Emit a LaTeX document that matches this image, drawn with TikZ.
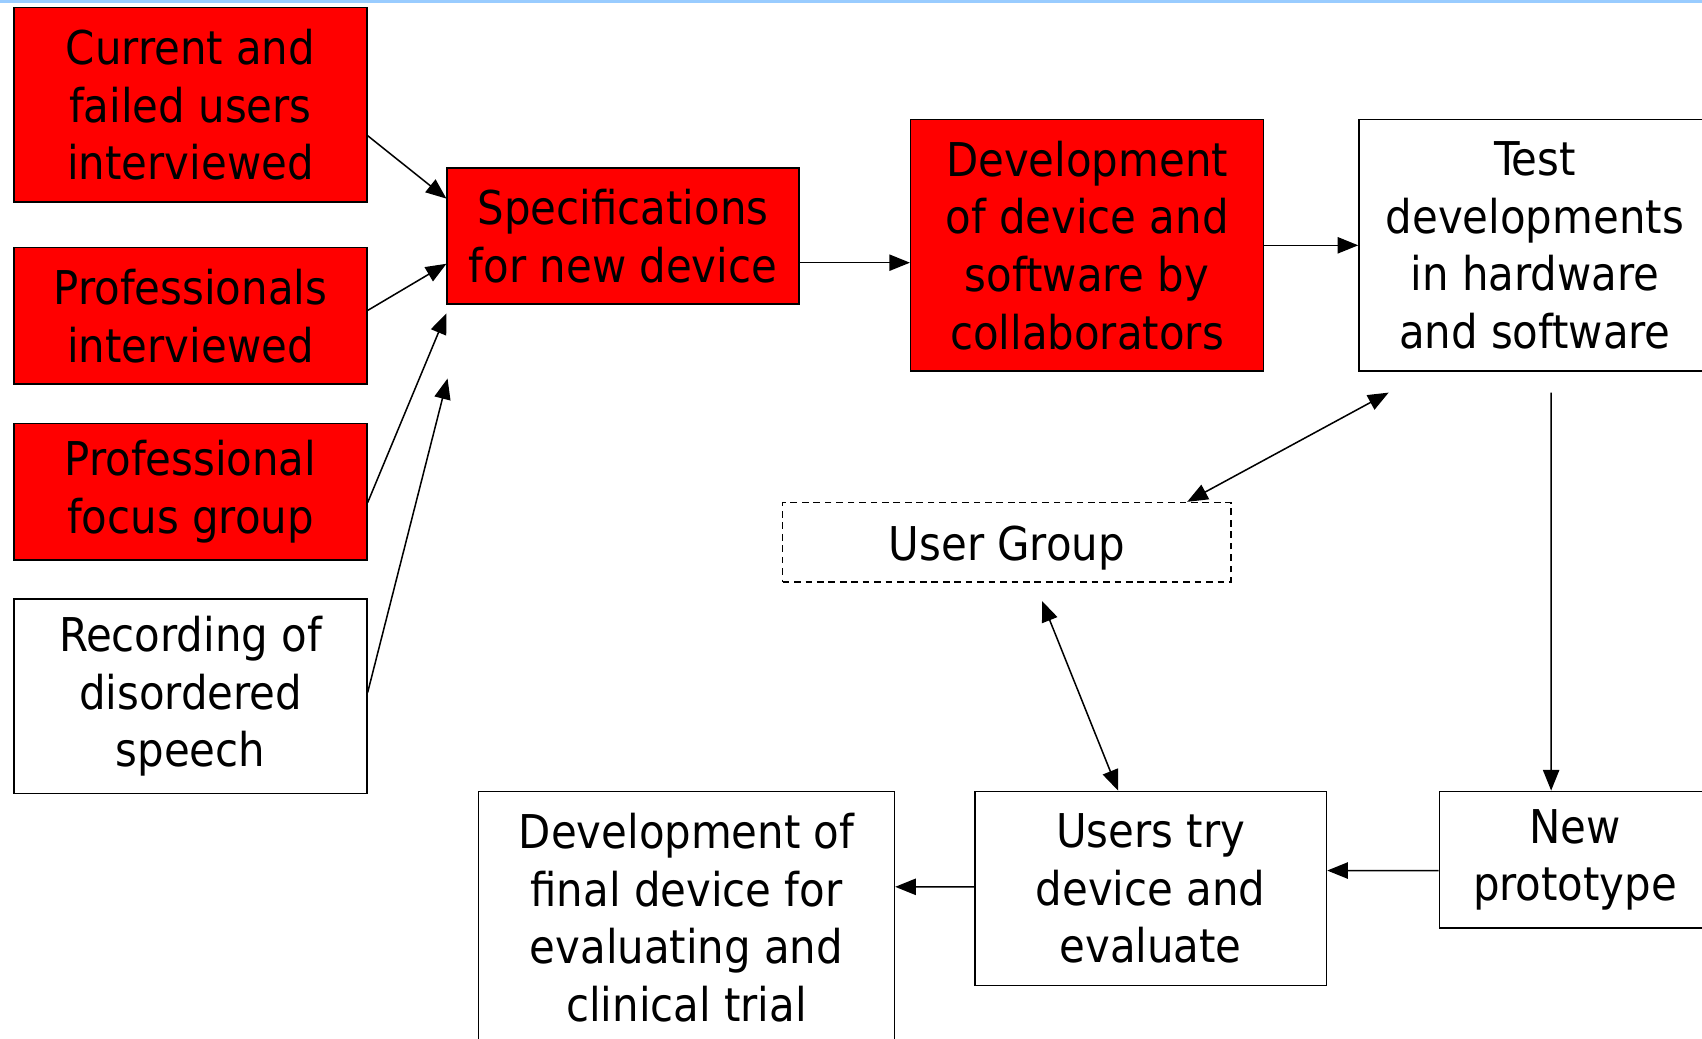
\documentclass[tikz,border=0pt]{standalone}
\usepackage{fontspec}
\IfFontExistsTF{DejaVu Sans Condensed}{%
  \setmainfont{DejaVu Sans Condensed}
  \newcommand\boxfont{\fontsize{24.4pt}{30.2pt}\selectfont}}{%
  \setmainfont{DejaVu Sans}
  \newcommand\boxfont{\fontsize{21.9pt}{30.2pt}\selectfont}}
\usetikzlibrary{arrows.meta,positioning}
\definecolor{topblue}{RGB}{153,204,255}

\begin{document}
\begin{tikzpicture}[
  >=Triangle,
  line/.style={-{Triangle[length=3.8mm,width=3mm]},line width=0.8pt,draw=black},
  both/.style={line,{Triangle[length=3.8mm,width=3mm]}-{Triangle[length=3.8mm,width=3mm]}},
  whitebox/.style={rectangle,draw=black,line width=0.8pt,fill=white,font=\boxfont,align=center,inner sep=0pt,
    execute at begin node={\rule{0pt}{24pt}},minimum width=6.5cm},
  redbox/.style={whitebox,fill=red},
  groupbox/.style={whitebox,dash pattern=on 3.5pt off 2.5pt,minimum width=8.26cm,minimum height=1.46cm}
]
\useasboundingbox (0,0) rectangle (31.36,-19.14);
\fill[topblue] (0,0) rectangle (31.36,-0.06);

% Input nodes (left)
\node[redbox,minimum height=3.58cm] (cur) at (3.51,-1.93) {Current and\\failed users\\interviewed};
\node[redbox,minimum height=2.52cm] (prof) at (3.51,-5.82) {Professionals\\interviewed};
\node[redbox,minimum height=2.52cm] (focus) at (3.51,-9.06) {Professional\\focus group};
\node[whitebox,minimum height=3.58cm] (rec) at (3.51,-12.83) {Recording of\\disordered\\speech};

% Main chain (top)
\node[redbox,minimum width=6.48cm,minimum height=2.5cm] (spec) at (11.48,-4.35) {Specifications\\for new device};
\node[redbox,minimum height=4.64cm] (dev) at (20.03,-4.52) {Development\\of device and\\software by\\collaborators};
\node[whitebox,minimum width=6.48cm,minimum height=4.64cm] (test) at (28.28,-4.52) {Test\\developments\\in hardware\\and software};

% User group and loop (bottom)
\node[groupbox] (ugroup) at (18.55,-9.99) {User Group};
\node[whitebox,minimum width=5cm,minimum height=2.52cm] (proto) at (29.02,-15.84) {New\\prototype};
\node[whitebox,minimum width=6.48cm,minimum height=3.58cm] (try) at (21.2,-16.37) {Users try\\device and\\evaluate};
\node[whitebox,minimum width=7.66cm,minimum height=4.66cm] (final) at (12.65,-16.91) {Development of\\final device for\\evaluating and\\clinical trial};

% Inputs -> specifications
\draw[line] ([yshift=-0.57cm]cur.east) -- ([yshift=0.69cm]spec.west);
\draw[line] ([yshift=0.1cm]prof.east) -- ([yshift=-0.51cm]spec.west);
\draw[line] ([yshift=-0.2cm]focus.east) -- ([yshift=-0.16cm]spec.south west);
\draw[line] ([yshift=0.07cm]rec.east) -- ([xshift=0.02cm,yshift=-1.36cm]spec.south west);

% Chain
\draw[line] ([yshift=-0.49cm]spec.east) -- ([yshift=-0.32cm]dev.west);
\draw[line] (dev.east) -- (test.west);
\draw[both] ([xshift=0.56cm,yshift=-0.38cm]test.south west) -- ([xshift=-0.82cm]ugroup.north east);
\draw[line] ([xshift=0.3cm,yshift=-0.38cm]test.south) -- ([xshift=-0.44cm]proto.north);
\draw[line] ([yshift=-0.2cm]proto.west) -- ([yshift=0.33cm]try.east);
\draw[line] ([yshift=0.03cm]try.west) -- ([yshift=0.57cm]final.east);
\draw[both] ([xshift=0.65cm,yshift=-0.34cm]ugroup.south) -- ([xshift=-0.6cm]try.north);

\end{tikzpicture}
\end{document}
